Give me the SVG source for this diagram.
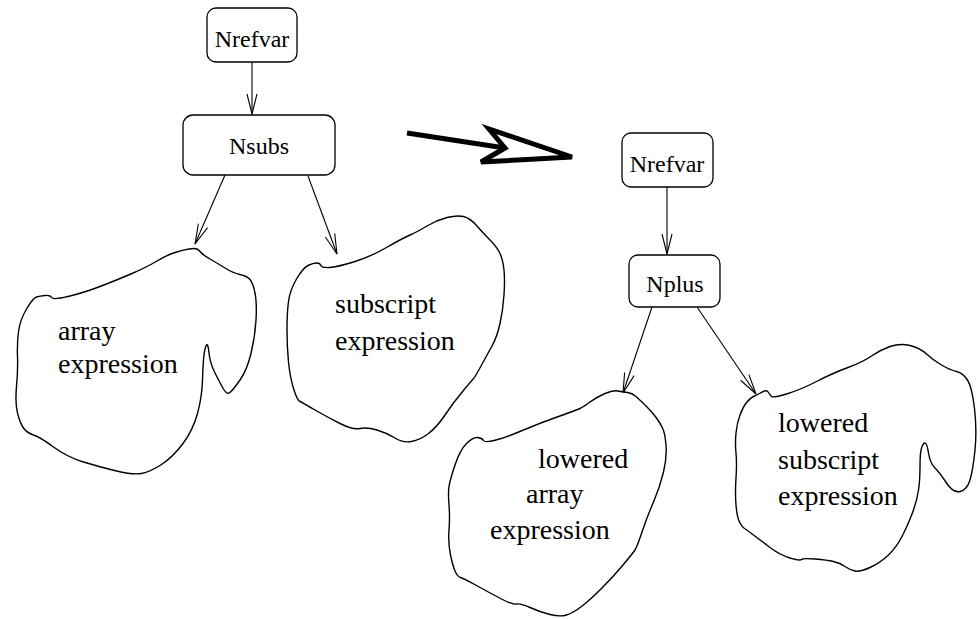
<svg xmlns="http://www.w3.org/2000/svg" width="980" height="619" viewBox="0 0 980 619">
<style>
.box{fill:#fff;stroke:#000;stroke-width:1.3}
.blob{fill:#fff;stroke:#000;stroke-width:1.4;stroke-linejoin:round}
.lbl{font-family:"Liberation Serif","Times New Roman",serif;font-size:24px;fill:#000;text-anchor:middle}
.btxt{font-family:"Liberation Serif","Times New Roman",serif;font-size:28px;fill:#000}
.edge{fill:none;stroke:#000;stroke-width:1.1}
</style>
<defs>
<marker id="v" viewBox="-22 -7 24 14" refX="0" refY="0" markerWidth="24" markerHeight="14" markerUnits="userSpaceOnUse" orient="auto">
<path d="M-20,-5 L0,0 L-20,5" fill="none" stroke="#000" stroke-width="1.1"/>
</marker>
</defs>
<rect width="980" height="619" fill="#fff"/>
<g id="edges">
<line class="edge" x1="252" y1="62" x2="252" y2="114" marker-end="url(#v)"/>
<line class="edge" x1="225" y1="175" x2="195" y2="244" marker-end="url(#v)"/>
<line class="edge" x1="308" y1="176" x2="337" y2="254" marker-end="url(#v)"/>
<line class="edge" x1="667" y1="187" x2="667" y2="254" marker-end="url(#v)"/>
<line class="edge" x1="652" y1="307" x2="623" y2="393" marker-end="url(#v)"/>
<line class="edge" x1="697" y1="307" x2="756" y2="394" marker-end="url(#v)"/>
<g id="transform-arrow">
<line x1="407" y1="133" x2="505" y2="148" stroke="#000" stroke-width="5"/>
<polygon points="505,148 489,129 572,157 481,162" fill="#fff" stroke="#000" stroke-width="5" stroke-linejoin="miter"/>
</g>
</g>
<g id="nrefvar1">
<rect class="box" x="207" y="8" width="90" height="54" rx="9"/>
<text class="lbl" x="252" y="47">Nrefvar</text>
</g>
<g id="nsubs">
<rect class="box" x="183" y="115" width="152" height="60" rx="10"/>
<text class="lbl" x="259" y="154">Nsubs</text>
</g>
<g id="array-expr">
<path class="blob" d="M189,249 Q183,250 175,252.5 Q167,255 157,261 Q147,267 132,273.5 Q117,280 100,286.5 Q83,293 68,296.5 Q53,300 51.5,297.5 Q50,295 45,295.5 Q40,296 36.5,297 Q33,298 26.5,309 Q20,320 18.5,331.5 Q17,343 17.5,356.5 Q18,370 16.5,386.5 Q15,403 17.5,413 Q20,423 23.5,428 Q27,433 33.5,435 Q40,437 53.5,447 Q67,457 83.5,462 Q100,467 116.5,471 Q133,475 141.5,473.5 Q150,472 161.5,464.5 Q173,457 183,443.5 Q193,430 197.5,413.5 Q202,397 202.5,380 Q203,363 204,355 Q205,347 206.5,345 Q208,343 209,353 Q210,363 215,373 Q220,383 223.5,389 Q227,395 230,392.5 Q233,390 240,380 Q247,370 251,353.5 Q255,337 256,320 Q257,303 255,293 Q253,283 250,279.5 Q247,276 240,274.5 Q233,273 225,268 Q217,263 210,259 Q203,255 201,252.5 Q199,250 197,249 Q195,248 189,249 Z"/>
<text class="btxt" x="58" y="340">array</text>
<text class="btxt" x="58" y="373">expression</text>
</g>
<g id="subscript-expr">
<path class="blob" d="M321,265.5 Q322,268 329.5,267.5 Q337,267 353.5,262 Q370,257 386.5,247.5 Q403,238 410,235 Q417,232 427,226 Q437,220 447,217.5 Q457,215 463.5,216.5 Q470,218 476.5,225.5 Q483,233 490,240 Q497,247 500,253.5 Q503,260 504,270 Q505,280 504,295 Q503,310 500,323.5 Q497,337 492,346 Q487,355 481,366 Q475,377 474,378 Q473,379 463,391 Q453,403 445,415 Q437,427 428.5,433.5 Q420,440 411.5,441.5 Q403,443 395,438 Q387,433 377,430 Q367,427 360,428.5 Q353,430 340,423.5 Q327,417 315,410 Q303,403 300,401.5 Q297,400 293.5,388.5 Q290,377 288.5,362 Q287,347 287,330 Q287,313 288.5,301.5 Q290,290 296.5,279 Q303,268 308,265.5 Q313,263 316.5,263 Q320,263 321,265.5 Z"/>
<text class="btxt" x="335" y="313">subscript</text>
<text class="btxt" x="335" y="350">expression</text>
</g>
<g id="nrefvar2">
<rect class="box" x="622" y="133" width="91" height="54" rx="9"/>
<text class="lbl" x="667" y="172">Nrefvar</text>
</g>
<g id="nplus">
<rect class="box" x="629" y="255" width="91" height="52" rx="9"/>
<text class="lbl" x="675" y="292">Nplus</text>
</g>
<g id="lowered-array-expr">
<path class="blob" d="M618,391 Q613,390 605,393.5 Q597,397 590,402 Q583,407 580,408.5 Q577,410 558.5,416.5 Q540,423 523.5,430 Q507,437 496,440 Q485,443 483.5,440.5 Q482,438 477.5,437.5 Q473,437 466.5,443.5 Q460,450 455,465 Q450,480 449,486.5 Q448,493 449,505 Q450,517 449,530 Q448,543 450.5,555 Q453,567 455.5,572 Q458,577 460.5,577.5 Q463,578 476.5,585.5 Q490,593 501.5,599 Q513,605 516.5,604 Q520,603 530,607.5 Q540,612 550,614.5 Q560,617 566.5,615 Q573,613 581.5,606.5 Q590,600 601.5,588.5 Q613,577 623,565 Q633,553 635,550 Q637,547 642,532 Q647,517 653.5,502 Q660,487 663.5,472 Q667,457 666,445 Q665,433 662.5,428 Q660,423 656.5,418 Q653,413 646.5,406.5 Q640,400 636,396.5 Q632,393 627.5,392.5 Q623,392 618,391 Z"/>
<text class="btxt" x="538" y="468">lowered</text>
<text class="btxt" x="526" y="503">array</text>
<text class="btxt" x="490" y="539">expression</text>
</g>
<g id="lowered-subscript-expr">
<path class="blob" d="M759.5,393.5 Q762,392 764.5,391 Q767,390 768.5,392.5 Q770,395 771.5,396.5 Q773,398 786.5,394 Q800,390 816.5,381.5 Q833,373 848,367.5 Q863,362 871.5,356 Q880,350 890,346.5 Q900,343 910,345.5 Q920,348 926.5,354 Q933,360 941.5,365 Q950,370 956.5,371.5 Q963,373 967.5,380 Q972,387 974.5,408.5 Q977,430 975,450 Q973,470 970,480 Q967,490 960,491.5 Q953,493 946.5,483 Q940,473 935,468 Q930,463 928.5,453 Q927,443 925,443 Q923,443 921.5,448 Q920,453 920,466.5 Q920,480 918.5,490 Q917,500 913.5,510 Q910,520 903.5,533.5 Q897,547 888.5,555 Q880,563 870,567.5 Q860,572 855,571 Q850,570 845,566.5 Q840,563 833.5,561.5 Q827,560 815,559 Q803,558 801.5,559.5 Q800,561 790,558 Q780,555 770,547.5 Q760,540 753.5,535 Q747,530 744.5,528.5 Q742,527 739.5,522 Q737,517 736,505 Q735,493 736,478 Q737,463 736,453 Q735,443 736,433 Q737,423 740,415 Q743,407 746.5,402.5 Q750,398 753.5,396.5 Q757,395 759.5,393.5 Z"/>
<text class="btxt" x="778" y="432">lowered</text>
<text class="btxt" x="778" y="469">subscript</text>
<text class="btxt" x="778" y="505">expression</text>
</g>
</svg>
